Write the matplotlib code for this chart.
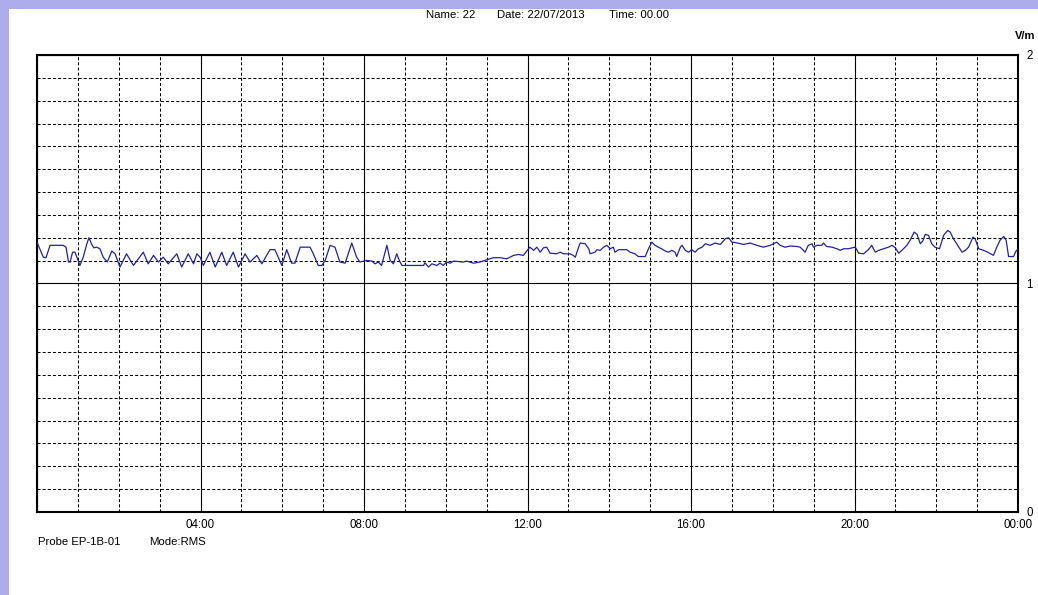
import matplotlib
matplotlib.use('Agg')
import matplotlib.pyplot as plt
from matplotlib.patches import Rectangle
from matplotlib.ticker import MultipleLocator

plt.rcParams['font.family'] = ['Liberation Sans', 'DejaVu Sans']
plt.rcParams['lines.scale_dashes'] = False

# ---- data (hours since 00:00, field in V/m) ----
hours = [
    0.00, 0.155, 0.22, 0.32, 0.64, 0.71, 0.77, 0.81, 0.87, 0.93, 1.05, 1.13, 1.22, 1.27,
    1.34, 1.39, 1.46, 1.54, 1.62, 1.72, 1.83, 1.91, 2.03, 2.19, 2.36, 2.60, 2.72, 2.85,
    2.97, 3.09, 3.21, 3.42, 3.54, 3.70, 3.83, 3.91, 3.99, 4.07, 4.23, 4.36, 4.52, 4.64,
    4.80, 4.93, 5.09, 5.21, 5.38, 5.50, 5.70, 5.82, 5.99,
    6.11, 6.23, 6.31, 6.44, 6.68, 6.76, 6.88, 6.97, 7.05, 7.17, 7.29, 7.41, 7.54, 7.70,
    7.82, 7.90, 8.07, 8.19, 8.27, 8.35, 8.43, 8.56, 8.64, 8.72, 8.80, 8.88, 8.93, 9.21,
    9.46, 9.49, 9.58, 9.66, 9.78, 9.86, 9.94, 10.02, 10.11, 10.19, 10.43, 10.51, 10.68,
    10.84, 11.00, 11.17, 11.33, 11.49, 11.57, 11.66, 11.78, 11.90, 11.98, 12.06,
    12.15, 12.23, 12.31, 12.39, 12.47, 12.55, 12.71, 12.80, 12.88, 13.04, 13.12, 13.17,
    13.25, 13.29, 13.41, 13.50, 13.53, 13.65, 13.70, 13.78, 13.86, 13.94, 14.02, 14.10,
    14.14, 14.23, 14.43, 14.51, 14.63, 14.71, 14.88, 14.96, 15.04, 15.12, 15.20, 15.28,
    15.37, 15.45, 15.53, 15.61, 15.65, 15.74, 15.78, 15.86, 15.94, 16.02, 16.10, 16.18,
    16.27, 16.35, 16.47, 16.59, 16.72, 16.84, 16.92, 17.00, 17.12, 17.28, 17.45, 17.61,
    17.77, 17.94, 18.02, 18.10, 18.18, 18.30,
    18.43, 18.59, 18.67, 18.75, 18.79, 18.87, 18.96, 19.00, 19.08, 19.20, 19.24, 19.32,
    19.45, 19.57, 19.65, 19.73, 19.85, 19.94, 20.02, 20.10, 20.22, 20.34, 20.42, 20.51,
    20.59, 20.71, 20.83, 20.92, 21.00, 21.08, 21.16, 21.28, 21.36, 21.46, 21.53, 21.61,
    21.67, 21.73, 21.81, 21.89, 21.97, 22.08, 22.18, 22.28, 22.34, 22.42, 22.50, 22.63,
    22.71, 22.79, 22.90, 22.95, 23.04, 23.16, 23.26, 23.40, 23.48, 23.56, 23.65, 23.71,
    23.77, 23.89, 23.96, 24.00,
]
field_vm = [
    1.181, 1.115, 1.113, 1.167, 1.167, 1.159, 1.094, 1.094, 1.137, 1.137, 1.079, 1.115, 1.174, 1.200,
    1.171, 1.156, 1.159, 1.152, 1.115, 1.094, 1.142, 1.130, 1.072, 1.130, 1.079, 1.137, 1.086, 1.123,
    1.094, 1.115, 1.086, 1.130, 1.072, 1.130, 1.086, 1.130, 1.115, 1.079, 1.137, 1.072, 1.137, 1.079,
    1.137, 1.072, 1.130, 1.094, 1.123, 1.086, 1.148, 1.148, 1.079,
    1.148, 1.089, 1.089, 1.159, 1.159, 1.130, 1.079, 1.079, 1.101, 1.167, 1.159, 1.094, 1.089, 1.177,
    1.115, 1.094, 1.101, 1.098, 1.086, 1.094, 1.079, 1.167, 1.101, 1.086, 1.130, 1.094, 1.079, 1.079,
    1.079, 1.091, 1.072, 1.086, 1.079, 1.089, 1.079, 1.094, 1.089, 1.098, 1.094, 1.098, 1.089,
    1.094, 1.104, 1.113, 1.113, 1.108, 1.115, 1.123, 1.127, 1.123, 1.142, 1.159,
    1.145, 1.159, 1.137, 1.156, 1.159, 1.133, 1.130, 1.137, 1.130, 1.130, 1.123, 1.115,
    1.159, 1.177, 1.174, 1.152, 1.130, 1.137, 1.148, 1.145, 1.159, 1.167, 1.152, 1.159,
    1.137, 1.148, 1.148, 1.137, 1.130, 1.118, 1.118, 1.152, 1.181, 1.167, 1.159, 1.152,
    1.142, 1.137, 1.145, 1.137, 1.118, 1.159, 1.167, 1.145, 1.137, 1.148, 1.137, 1.152,
    1.159, 1.174, 1.167, 1.177, 1.171, 1.196, 1.200, 1.181, 1.178, 1.171, 1.177, 1.167,
    1.159, 1.167, 1.174, 1.181, 1.167, 1.159,
    1.164, 1.162, 1.159, 1.145, 1.137, 1.167, 1.174, 1.159, 1.167, 1.167, 1.177, 1.162,
    1.159, 1.152, 1.145, 1.152, 1.152, 1.156, 1.159, 1.133, 1.130, 1.148, 1.167, 1.137,
    1.145, 1.152, 1.159, 1.167, 1.156, 1.133, 1.145, 1.167, 1.189, 1.225, 1.215, 1.174,
    1.186, 1.215, 1.211, 1.174, 1.159, 1.152, 1.211, 1.232, 1.225, 1.196, 1.174, 1.137,
    1.145, 1.159, 1.203, 1.196, 1.152, 1.145, 1.137, 1.123, 1.159, 1.189, 1.206, 1.189,
    1.118, 1.118, 1.145, 1.148,
]
x_major = [0, 4, 8, 12, 16, 20, 24]
x_labels = ['', '04:00', '08:00', '12:00', '16:00', '20:00', '00:00']
y_major = [0, 1, 2]
y_labels = ['0', '1', '2']
header = [('Name: 22', 426), ('Date: 22/07/2013', 497), ('Time: 00.00', 609)]
footer = [('Probe EP-1B-01', 38), ('Mode:RMS', 149)]
unit = 'V/m'

W, H = 1038, 595
fig = plt.figure(figsize=(W / 100, H / 100), dpi=100)
fig.patch.set_facecolor('white')
band = '#ADADEB'
fig.patches.append(Rectangle((0, 1 - 9 / H), 1, 9 / H, transform=fig.transFigure,
                             facecolor=band, edgecolor='none', zorder=0))
fig.patches.append(Rectangle((0, 0), 9 / W, 1, transform=fig.transFigure,
                             facecolor=band, edgecolor='none', zorder=0))

ax = fig.add_axes([37 / W, 83 / H, 981 / W, 457 / H])
ax.plot(hours, field_vm, color='#22229c', lw=0.9, zorder=3)
ax.set_xlim(0, 24)
ax.set_ylim(0, 2)
ax.set_xticks(x_major)
ax.set_xticklabels(x_labels)
ax.xaxis.set_minor_locator(MultipleLocator(1))
ax.set_yticks(y_major)
ax.set_yticklabels(y_labels)
ax.yaxis.set_minor_locator(MultipleLocator(0.1))
ax.yaxis.tick_right()
ax.tick_params(which='both', length=0)
ax.tick_params(axis='x', pad=5, labelsize=8.3)
ax.tick_params(axis='y', pad=6, labelsize=8.3)
ax.grid(which='minor', color='black', lw=0.75, ls=(0, (2.2, 1.5)))
ax.grid(which='major', color='black', lw=0.8, ls='-')
for s in ax.spines.values():
    s.set_linewidth(1.5)
    s.set_color('black')

for txt, xp in header:
    fig.text(xp / W, 1 - 15 / H, txt, ha='left', va='center', fontsize=8.2)
for txt, xp in footer:
    fig.text(xp / W, 1 - 542 / H, txt, ha='left', va='center', fontsize=8.2)
fig.text(1015 / W, 1 - 36 / H, unit, ha='left', va='center', fontsize=8, fontweight='bold')

fig.savefig('out.png', dpi=100)
